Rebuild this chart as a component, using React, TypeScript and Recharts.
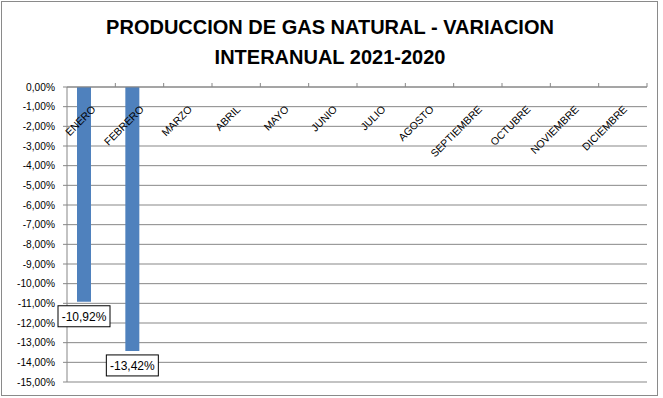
import React from "react";
import { Bar, BarChart, CartesianGrid, LabelList, XAxis, YAxis } from "recharts";

const MONTHS = [
  "ENERO",
  "FEBRERO",
  "MARZO",
  "ABRIL",
  "MAYO",
  "JUNIO",
  "JULIO",
  "AGOSTO",
  "SEPTIEMBRE",
  "OCTUBRE",
  "NOVIEMBRE",
  "DICIEMBRE",
];

// variación interanual (%), sólo enero y febrero publicados
const VARIACION: (number | null)[] = [-10.92, -13.42, null, null, null, null, null, null, null, null, null, null];
// serie vacía que ocupa el segundo lugar de cada categoría (como en la planilla original)
const SERIE_VACIA: (number | null)[] = [null, null, null, null, null, null, null, null, null, null, null, null];

const Y_TICKS = [0, -1, -2, -3, -4, -5, -6, -7, -8, -9, -10, -11, -12, -13, -14, -15];

const TITLE_LINES = ["PRODUCCION DE GAS NATURAL - VARIACION", "INTERANUAL 2021-2020"];

const BAR_COLOR = "#4F81BD";
const GRID_COLOR = "#878787";
const FONT = "'Liberation Sans', Arial, sans-serif";

const data = MONTHS.map((month, i) => ({
  month,
  variacion: VARIACION[i],
  vacia: SERIE_VACIA[i],
}));

const pct = (v: number, digits = 2) => `${v.toFixed(digits).replace(".", ",")}%`;

function MonthTick(props: any) {
  const { x, y, payload } = props;
  const axisY = y + 4 + 2;
  const half = payload?.offset ?? 24;
  return (
    <g>
      <line x1={x + half} x2={x + half} y1={axisY - 4} y2={axisY} stroke={GRID_COLOR} />
      <text
        x={x + 5}
        y={axisY + 23}
        transform={`rotate(-45 ${x + 5} ${axisY + 23})`}
        textAnchor="end"
        fontSize={10.5}
        fontFamily={FONT}
        fill="#000"
      >
        {payload.value}
      </text>
    </g>
  );
}

function ValueLabel(props: any) {
  const { x, y, width, height, value } = props;
  if (value === null || value === undefined) return null;
  const cx = x + width / 2;
  const bottom = Math.max(y, y + height);
  const w = 52;
  const h = 21;
  const top = bottom + 4;
  return (
    <g>
      <rect x={cx - w / 2} y={top} width={w} height={h} fill="#fff" stroke="#000" strokeWidth={1} />
      <text
        x={cx}
        y={top + h / 2 + 4.5}
        textAnchor="middle"
        fontSize={12}
        fontFamily={FONT}
        fill="#000"
      >
        {pct(Number(value))}
      </text>
    </g>
  );
}

export default function App() {
  return (
    <div
      style={{
        position: "absolute",
        left: 0,
        top: 0,
        width: 663,
        height: 398,
        background: "#fff",
        fontFamily: FONT,
      }}
    >
      <div
        style={{
          position: "absolute",
          left: 1,
          top: 1,
          width: 655,
          height: 393,
          border: "1px solid #8a8a8a",
        }}
      />
      <div
        style={{
          position: "absolute",
          left: 0,
          top: 12,
          width: 660,
          textAlign: "center",
          fontWeight: "bold",
          fontSize: 20,
          lineHeight: "30px",
          color: "#000",
        }}
      >
        {TITLE_LINES.map((line) => (
          <div key={line}>{line}</div>
        ))}
      </div>
      <BarChart
        width={663}
        height={398}
        data={data}
        margin={{ top: 60, right: 16, bottom: 16, left: 0 }}
        barCategoryGap={10}
        barGap={0}
        style={{ position: "absolute", left: 0, top: 0 }}
      >
        <CartesianGrid horizontal vertical={false} stroke={GRID_COLOR} />
        <XAxis
          dataKey="month"
          orientation="top"
          height={27}
          interval={0}
          tickLine={false}
          tickSize={4}
          tickMargin={2}
          axisLine={{ stroke: GRID_COLOR }}
          tick={<MonthTick />}
        />
        <YAxis
          type="number"
          domain={[-15, 0]}
          ticks={Y_TICKS}
          interval={0}
          width={67}
          tickSize={4}
          tickMargin={8}
          axisLine={{ stroke: GRID_COLOR }}
          tickLine={{ stroke: GRID_COLOR }}
          tickFormatter={(v: number) => pct(v)}
          tick={{ fontSize: 10.2, fontFamily: FONT, fill: "#000" }}
        />
        <Bar dataKey="variacion" fill={BAR_COLOR} isAnimationActive={false}>
          <LabelList dataKey="variacion" content={<ValueLabel />} />
        </Bar>
        <Bar dataKey="vacia" fill={BAR_COLOR} isAnimationActive={false} />
      </BarChart>
    </div>
  );
}
